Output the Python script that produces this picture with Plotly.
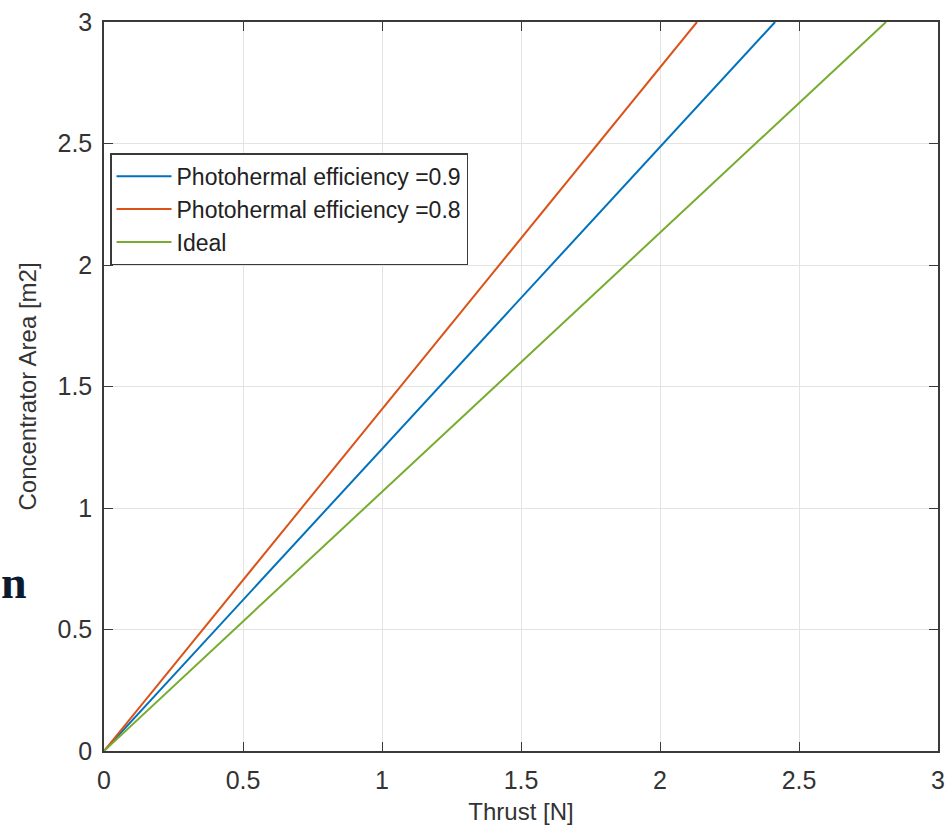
import plotly.graph_objects as go

# Thrust [N] vs concentrator area [m2]; each line runs from the origin to the top of the axes
thrust_eff09 = [0.0, 2.414]
area_eff09 = [0.0, 3.0]
thrust_eff08 = [0.0, 2.133]
area_eff08 = [0.0, 3.0]
thrust_ideal = [0.0, 2.813]
area_ideal = [0.0, 3.0]

tick_vals = [0, 0.5, 1, 1.5, 2, 2.5, 3]
tick_text = ["0", "0.5", "1", "1.5", "2", "2.5", "3"]

series = [
    ("Photohermal efficiency =0.9", thrust_eff09, area_eff09, "#0072BD"),
    ("Photohermal efficiency =0.8", thrust_eff08, area_eff08, "#D95319"),
    ("Ideal", thrust_ideal, area_ideal, "#77AC30"),
]

fig = go.Figure()
for name, x, y, color in series:
    fig.add_trace(go.Scatter(x=x, y=y, mode="lines", name=name,
                             line=dict(color=color, width=2)))

axis_common = dict(
    range=[0, 3],
    tickvals=tick_vals,
    ticktext=tick_text,
    showgrid=True,
    gridcolor="#e3e3e3",
    gridwidth=1,
    zeroline=False,
    showline=True,
    linecolor="#3a3a3a",
    linewidth=1.5,
    mirror="allticks",
    ticks="inside",
    ticklen=9,
    tickwidth=1.2,
    tickcolor="#3a3a3a",
    automargin=False,
    tickfont=dict(family="Liberation Sans, Arial, sans-serif", size=25, color="#333333"),
)

fig.update_xaxes(**axis_common, ticklabelstandoff=6,
                 title=dict(text="Thrust [N]", standoff=10,
                            font=dict(family="Liberation Sans, Arial, sans-serif", size=24, color="#333333")))
fig.update_yaxes(**axis_common, ticklabelstandoff=5,
                 title=dict(text="Concentrator Area [m2]", standoff=14,
                            font=dict(family="Liberation Sans, Arial, sans-serif", size=24, color="#333333")))

fig.add_annotation(text="<b>n</b>", xref="paper", yref="paper",
                   x=-0.1247, y=0.2305, xanchor="left", yanchor="middle",
                   showarrow=False, borderpad=0,
                   font=dict(family="Liberation Serif, DejaVu Serif, serif", size=46, color="#0b1a2e"))

fig.update_layout(
    width=949,
    height=832,
    margin=dict(l=104, r=11, t=22, b=81, autoexpand=False),
    paper_bgcolor="white",
    plot_bgcolor="white",
    showlegend=True,
    legend=dict(
        x=0.0072, y=0.820, xanchor="left", yanchor="top",
        bgcolor="white",
        bordercolor="#3a3a3a",
        borderwidth=1.5,
        font=dict(family="Liberation Sans, Arial, sans-serif", size=23, color="#222222"),
        tracegroupgap=0,
        itemwidth=55,
    ),
)

fig.write_html("out.html")
